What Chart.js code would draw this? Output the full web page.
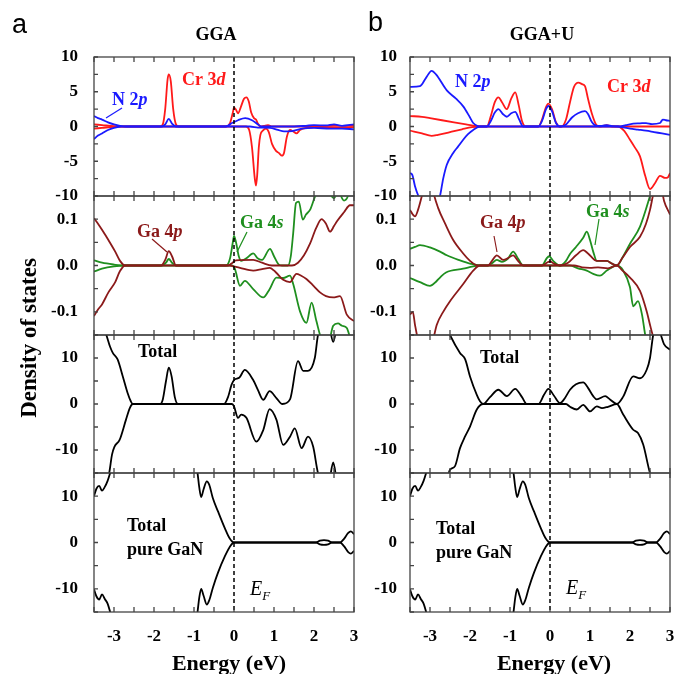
<!DOCTYPE html>
<html>
<head>
<meta charset="utf-8">
<script src="https://cdn.jsdelivr.net/npm/chart.js@4.4.1/dist/chart.umd.min.js"></script>
<style>
  body { margin: 0; background: #fff; overflow: hidden; }
  #wrap { position: relative; width: 675px; height: 674px; overflow: hidden; }
  #wrap canvas { position: absolute; left: 0; top: 0; }
</style>
</head>
<body>
<div id="wrap"></div>
<script>
// ---- tick labels ----
const energyTicks = [-3, -2, -1, 0, 1, 2, 3];
const pdosTicks = [-10, -5, 0, 5, 10];
const gaTicks = [-0.1, 0, 0.1];
const totTicks = [-10, 0, 10];

// ---- GGA (column a), [energy eV, DOS] ----
const ggaNUp = [[-3.5,1.5],[-3.4,1.2],[-3.3,1.0],[-3.15,0.6],[-3.0,0.3],[-2.85,0.1],[-2.7,0],[-1.8,0],[-1.72,0.3],[-1.63,1.1],[-1.55,0.4],[-1.45,0],[-0.2,0],[-0.05,0.5],[0.1,0.9],[0.28,1.2],[0.45,0.9],[0.6,0.3],[0.7,0],[1.5,0],[1.8,0.1],[2.0,0.2],[2.3,0.15],[2.5,0.3],[2.7,0.1],[3.0,0.3]];
const ggaNDn = [[-3.5,-1.8],[-3.4,-1.3],[-3.3,-1.0],[-3.15,-0.5],[-3.0,-0.2],[-2.8,0],[0.4,0],[0.6,-0.15],[0.9,-0.2],[1.1,-0.5],[1.25,-0.7],[1.45,-0.65],[1.7,-0.3],[2.0,-0.2],[2.4,-0.3],[2.7,-0.3],[3.0,-0.4]];
const ggaCrUp = [[-3.5,0.3],[-3.3,0.2],[-3.0,0.05],[-2.7,0],[-1.85,0],[-1.78,0.3],[-1.72,2.5],[-1.66,6.8],[-1.63,7.5],[-1.58,6.5],[-1.52,2.5],[-1.45,0.3],[-1.38,0],[-0.2,0],[-0.1,0.5],[-0.03,2.0],[0.0,2.7],[0.05,2.4],[0.1,1.9],[0.17,2.8],[0.25,4.0],[0.31,4.2],[0.37,3.6],[0.43,2.0],[0.5,1.2],[0.55,1.0],[0.6,0.4],[0.65,0],[0.75,0.1],[0.85,0.2],[0.95,0],[1.5,0],[2.0,0.05],[2.5,0.1],[3.0,0.1]];
const ggaCrDn = [[-3.5,-0.3],[-3.3,-0.2],[-3.0,-0.05],[-2.7,0],[0.3,0],[0.38,-0.5],[0.45,-3],[0.52,-7.5],[0.55,-8.5],[0.58,-7],[0.62,-3],[0.66,-1.2],[0.72,-0.6],[0.8,-0.3],[0.87,-0.8],[0.95,-2.5],[1.05,-3.5],[1.12,-3.8],[1.2,-4.2],[1.25,-3.8],[1.32,-1.5],[1.4,-0.5],[1.48,-0.7],[1.56,-1.0],[1.65,-0.5],[1.8,-0.2],[2.2,-0.1],[2.6,-0.15],[3.0,-0.1]];
const ggaGa4pUp = [[-3.5,0.102],[-3.4,0.09],[-3.3,0.077],[-3.14,0.055],[-2.97,0.03],[-2.85,0.01],[-2.72,0],[-1.82,0],[-1.72,0.012],[-1.63,0.031],[-1.55,0.02],[-1.45,0],[-0.15,0],[-0.05,0.005],[0.05,0.011],[0.48,0.012],[0.7,0.006],[0.95,0],[1.45,0],[1.6,0.006],[1.75,0.022],[1.9,0.047],[2.05,0.08],[2.19,0.1],[2.3,0.09],[2.4,0.073],[2.5,0.085],[2.57,0.095],[2.75,0.115],[2.9,0.13],[3.0,0.13]];
const ggaGa4pDn = [[-3.5,-0.109],[-3.4,-0.095],[-3.3,-0.084],[-3.14,-0.058],[-2.97,-0.036],[-2.85,-0.012],[-2.72,0],[-0.1,0],[0.0,-0.002],[0.15,-0.005],[0.48,-0.011],[0.7,-0.008],[0.89,-0.005],[1.05,-0.015],[1.23,-0.031],[1.4,-0.036],[1.56,-0.018],[1.68,-0.022],[1.81,-0.029],[2.0,-0.045],[2.15,-0.058],[2.3,-0.066],[2.48,-0.069],[2.65,-0.066],[2.82,-0.106],[3.0,-0.12]];
const ggaGa4sUp = [[-3.5,0.011],[-3.3,0.006],[-3.0,0.002],[-2.75,0],[-1.8,0],[-1.7,0.006],[-1.63,0.014],[-1.55,0.006],[-1.45,0],[-0.2,0],[-0.1,0.015],[-0.03,0.05],[0.0,0.064],[0.05,0.05],[0.12,0.02],[0.18,0.01],[0.3,0.015],[0.48,0.026],[0.6,0.015],[0.7,0.012],[0.9,0.036],[1.0,0.02],[1.12,0.002],[1.2,0],[1.35,0],[1.42,0.02],[1.48,0.07],[1.55,0.135],[1.62,0.138],[1.72,0.099],[1.8,0.11],[1.9,0.12],[2.06,0.155],[2.3,0.165],[2.5,0.145],[2.6,0.16],[2.75,0.14],[2.85,0.15],[3.0,0.2]];
const ggaGa4sDn = [[-3.5,-0.013],[-3.3,-0.007],[-3.0,-0.002],[-2.75,0],[-0.05,0],[0.02,-0.007],[0.15,-0.044],[0.27,-0.033],[0.48,-0.051],[0.73,-0.069],[0.89,-0.051],[1.06,-0.026],[1.23,-0.027],[1.4,-0.022],[1.48,-0.04],[1.65,-0.099],[1.81,-0.124],[1.94,-0.08],[2.06,-0.12],[2.19,-0.16],[2.35,-0.17],[2.48,-0.13],[2.6,-0.125],[2.7,-0.13],[2.82,-0.135],[2.92,-0.16],[3.0,-0.17]];
const ggaTotUp = [[-3.5,20],[-3.25,16],[-3.2,15.2],[-3.1,12.5],[-3.03,11.1],[-2.91,9.7],[-2.78,6.0],[-2.66,2.4],[-2.58,0.6],[-2.53,0],[-1.85,0],[-1.78,1],[-1.7,5],[-1.63,7.9],[-1.56,6],[-1.48,1.5],[-1.4,0],[-0.25,0],[-0.15,1.5],[-0.06,4.2],[0.01,5.3],[0.13,5.7],[0.27,7.4],[0.48,5.2],[0.6,3.0],[0.73,0.9],[0.89,2.8],[1.06,1.3],[1.21,0],[1.4,1.0],[1.6,9.3],[1.73,7.2],[1.85,7.2],[2.02,10],[2.1,15],[2.3,18],[2.38,17],[2.48,13.5],[2.58,17],[3.0,20]];
const ggaTotDn = [[-3.5,-20],[-3.2,-17],[-3.12,-15],[-3.05,-11],[-2.99,-9.3],[-2.86,-7.8],[-2.7,-3.4],[-2.6,-0.8],[-2.53,0],[-0.05,0],[0.0,-0.5],[0.1,-3],[0.18,-2.3],[0.31,-3.0],[0.56,-8.2],[0.73,-5.7],[0.89,-1.1],[1.06,-3.4],[1.23,-8.9],[1.4,-7.1],[1.52,-5.3],[1.69,-9.6],[1.85,-7.1],[1.98,-9.3],[2.1,-15],[2.3,-18],[2.38,-17],[2.48,-12.7],[2.58,-17],[3.0,-20]];

// ---- GGA+U (column b) ----
const ggauNUp = [[-3.5,5.7],[-3.25,5.8],[-3.1,7.0],[-2.96,8.0],[-2.85,7.5],[-2.58,5.2],[-2.35,4.0],[-2.17,2.9],[-2.0,1.3],[-1.92,0.5],[-1.8,0.05],[-1.75,0],[-1.58,0],[-1.48,0.8],[-1.38,2.0],[-1.29,2.5],[-1.18,1.8],[-1.08,1.4],[-0.97,1.9],[-0.87,2.1],[-0.77,1.0],[-0.67,0],[-0.29,0],[-0.2,0.8],[-0.1,2.5],[-0.04,2.95],[0.05,2.2],[0.15,0.5],[0.25,0],[0.4,0.3],[0.55,1.3],[0.7,1.9],[0.875,2.2],[0.95,1.8],[1.05,0.6],[1.17,0.1],[1.3,0.1],[1.42,0.2],[1.55,0.05],[1.75,0],[1.9,0.2],[2.08,0.4],[2.25,0.45],[2.4,0.5],[2.55,0.35],[2.75,0.5],[2.82,1.0],[2.9,0.9],[3.0,0.8]];
const ggauNDn = [[-3.5,-6.7],[-3.44,-7.0],[-3.375,-8.6],[-3.29,-10],[-3.1,-12],[-2.95,-12],[-2.8,-10.8],[-2.75,-10],[-2.67,-7.5],[-2.58,-5.5],[-2.42,-3.8],[-2.3,-2.9],[-2.17,-1.9],[-2.05,-1.1],[-1.92,-0.5],[-1.75,0],[1.7,0],[1.8,-0.1],[2.0,-0.3],[2.2,-0.45],[2.4,-0.6],[2.6,-0.8],[2.8,-1.0],[3.0,-1.2]];
const ggauCrUp = [[-3.5,1.5],[-3.2,1.4],[-3.0,1.2],[-2.7,0.9],[-2.4,0.6],[-2.1,0.3],[-1.9,0.1],[-1.75,0],[-1.58,0],[-1.48,1.5],[-1.38,3.5],[-1.29,4.2],[-1.2,3.5],[-1.08,2.5],[-0.97,4.0],[-0.87,4.9],[-0.78,3],[-0.7,0.8],[-0.6,0],[-0.29,0],[-0.2,1.0],[-0.1,2.8],[-0.04,3.3],[0.05,2.5],[0.15,0.6],[0.25,0],[0.29,0],[0.4,1.0],[0.5,3.5],[0.6,5.7],[0.71,6.3],[0.8,6.1],[0.875,5.8],[0.95,4.0],[1.05,1.8],[1.15,0.3],[1.25,0],[1.42,0.2],[1.55,0],[3.0,0]];
const ggauCrDn = [[-3.5,-0.6],[-3.2,-1.0],[-2.96,-1.35],[-2.8,-1.2],[-2.5,-0.8],[-2.2,-0.4],[-1.95,-0.1],[-1.75,0],[1.7,0],[1.85,-0.6],[2.0,-1.9],[2.12,-3.0],[2.25,-4.3],[2.38,-7.1],[2.5,-9.0],[2.62,-8.2],[2.75,-7.1],[2.88,-7.4],[2.95,-7.3],[3.0,-6.7]];
const ggauGa4pUp = [[-3.5,0.12],[-3.43,0.11],[-3.375,0.106],[-3.3,0.12],[-3.17,0.16],[-3.0,0.2],[-2.92,0.16],[-2.8,0.125],[-2.625,0.091],[-2.42,0.055],[-2.17,0.026],[-2.0,0.01],[-1.85,0.001],[-1.75,0],[-1.55,0],[-1.45,0.01],[-1.33,0.022],[-1.17,0.012],[-1.05,0.016],[-0.92,0.022],[-0.8,0.01],[-0.67,0],[-0.2,0],[-0.08,0.006],[0,0.009],[0.1,0.004],[0.25,0],[0.45,0.006],[0.65,0.022],[0.83,0.033],[0.95,0.026],[1.17,0.01],[1.42,0.01],[1.55,0.004],[1.67,0],[1.8,0.015],[2.0,0.04],[2.25,0.062],[2.4,0.09],[2.5,0.12],[2.6,0.16],[2.75,0.18],[2.85,0.14],[3.0,0.11]];
const ggauGa4pDn = [[-3.5,-0.106],[-3.43,-0.1],[-3.375,-0.128],[-3.3,-0.16],[-3.1,-0.2],[-2.95,-0.17],[-2.83,-0.128],[-2.67,-0.1],[-2.5,-0.077],[-2.17,-0.04],[-1.92,-0.011],[-1.75,0],[0.6,0],[0.8,-0.004],[1.0,-0.005],[1.2,-0.004],[1.45,-0.006],[1.67,0],[1.8,-0.01],[2.0,-0.026],[2.25,-0.055],[2.42,-0.1],[2.5,-0.128],[2.6,-0.16],[3.0,-0.25]];
const ggauGa4sUp = [[-3.5,0.036],[-3.375,0.04],[-3.25,0.044],[-3.0,0.039],[-2.75,0.03],[-2.58,0.022],[-2.25,0.011],[-2.0,0.004],[-1.75,0],[-1.55,0],[-1.45,0.005],[-1.33,0.012],[-1.2,0.008],[-1.05,0.015],[-0.92,0.03],[-0.8,0.015],[-0.67,0],[-0.2,0],[-0.08,0.016],[-0.02,0.02],[0.08,0.01],[0.25,0],[0.4,0.01],[0.5,0.025],[0.65,0.04],[0.83,0.06],[0.92,0.073],[1.0,0.055],[1.08,0.03],[1.17,0.01],[1.42,0.01],[1.55,0.004],[1.67,0],[1.83,0.02],[2.0,0.047],[2.25,0.084],[2.5,0.15],[2.6,0.18],[3.0,0.25]];
const ggauGa4sDn = [[-3.5,-0.027],[-3.25,-0.036],[-3.0,-0.044],[-2.85,-0.035],[-2.75,-0.026],[-2.6,-0.015],[-2.17,-0.007],[-1.92,-0.002],[-1.75,0],[0.5,0],[0.7,-0.006],[0.92,-0.011],[1.08,-0.018],[1.25,-0.022],[1.42,-0.011],[1.67,0],[1.83,-0.011],[2.0,-0.047],[2.08,-0.088],[2.2,-0.077],[2.3,-0.106],[2.38,-0.15],[2.5,-0.2],[3.0,-0.25]];
const ggauTotUp = [[-3.5,25],[-2.6,17],[-2.5,15],[-2.25,11.1],[-2.12,9.7],[-2.0,6.0],[-1.83,2.0],[-1.75,0.6],[-1.67,0],[-1.5,1.5],[-1.29,3.1],[-1.08,1.7],[-0.87,3.3],[-0.7,1.5],[-0.58,0],[-0.29,0],[-0.15,2],[-0.04,3.3],[0.1,1.8],[0.25,0.2],[0.35,1],[0.5,3.1],[0.65,4.3],[0.83,4.7],[0.95,3.5],[1.08,1.7],[1.17,1.0],[1.38,1.7],[1.5,1.0],[1.67,0],[1.83,1.6],[2.08,6],[2.25,5.6],[2.42,7.5],[2.5,10],[2.58,15],[2.66,16.5],[2.75,15.5],[2.85,13],[3.0,11.8]];
const ggauTotDn = [[-3.5,-25],[-2.6,-17],[-2.5,-14.3],[-2.375,-13.5],[-2.25,-9.6],[-2.12,-7],[-2.0,-4.9],[-1.83,-1.2],[-1.67,0],[0.4,0],[0.5,-0.6],[0.67,-1.2],[0.83,-0.2],[1.0,-1.6],[1.17,-0.5],[1.3,-0.9],[1.45,-0.6],[1.67,0],[1.83,-2.3],[2.08,-5.6],[2.2,-6.3],[2.33,-8.8],[2.5,-15],[3.0,-25]];

// ---- pure GaN (same in both columns) ----
const ganTotUp = [[-3.5,10],[-3.44,11.6],[-3.37,12.2],[-3.3,11.2],[-3.23,12],[-3.16,13.3],[-3.09,15.2],[-3.0,18],[-1.0,18],[-0.92,15.5],[-0.87,12],[-0.82,9.8],[-0.76,11.5],[-0.68,13.2],[-0.62,12.5],[-0.53,9.6],[-0.4,6.7],[-0.23,3.1],[-0.11,0.9],[0,0],[2.05,0],[2.15,0.4],[2.25,0.5],[2.35,0.4],[2.45,0],[2.65,0],[2.75,0.8],[2.85,2.0],[2.92,2.4],[3.0,1.8]];
const ganTotDn = [[-3.5,-10.1],[-3.44,-11.6],[-3.37,-12.3],[-3.3,-11.2],[-3.23,-12.2],[-3.16,-13.2],[-3.09,-15.2],[-3.0,-18],[-1.0,-18],[-0.92,-15.5],[-0.87,-12],[-0.82,-10],[-0.76,-11.5],[-0.68,-13.4],[-0.62,-12.5],[-0.53,-9.8],[-0.4,-6.5],[-0.23,-3.0],[-0.11,-1.0],[0,0],[2.05,0],[2.15,-0.4],[2.25,-0.5],[2.35,-0.4],[2.45,0],[2.65,0],[2.75,-0.8],[2.85,-2.0],[2.92,-2.4],[3.0,-1.8]];

// ---- styling ----
const RED = '#ff1a1a', BLUE = '#1a1aff', MAROON = '#8b1a1a', GREEN = '#1f8f1f', BLACK = '#000';
const SERIF = "'Liberation Serif', 'Times New Roman', serif";
const SANS = "'Liberation Sans', Arial, sans-serif";
const TICK_FONT = { family: SERIF, weight: 'bold', size: 17 };
const colX = [[94, 354], [410, 670]];
const rowY = [[57, 196], [196, 335], [335, 473], [473, 612]];
const Y_AXIS_W = 70, X_AXIS_H = 40;
const CANVAS_W = 720, CANVAS_H = 674;

function drawRich(ctx, spec) {
  ctx.save();
  ctx.translate(spec.x, spec.y);
  if (spec.rot) ctx.rotate(spec.rot);
  ctx.fillStyle = spec.c || BLACK;
  ctx.textBaseline = 'middle';
  const fontOf = p => {
    const st = p[1] || 'b';
    return (st.includes('i') ? 'italic ' : '') + (st.includes('b') ? 'bold ' : '') +
      (p[2] || spec.s) + 'px ' + (spec.f || SERIF);
  };
  let w = 0;
  spec.t.forEach(p => { ctx.font = fontOf(p); w += ctx.measureText(p[0]).width; });
  let cx = spec.align === 'center' ? -w / 2 : 0;
  spec.t.forEach(p => {
    ctx.font = fontOf(p);
    ctx.fillText(p[0], cx, p[3] || 0);
    cx += ctx.measureText(p[0]).width;
  });
  ctx.restore();
}

const panelDecor = {
  id: 'panelDecor',
  afterDatasetsDraw(chart, args, o) {
    const { ctx, chartArea: a, scales: { x, y } } = chart;
    ctx.save();
    // dashed Fermi level
    const x0 = x.getPixelForValue(0);
    ctx.setLineDash([4, 3]);
    ctx.lineWidth = 1.5;
    ctx.strokeStyle = BLACK;
    ctx.beginPath(); ctx.moveTo(x0, a.top); ctx.lineTo(x0, a.bottom); ctx.stroke();
    ctx.setLineDash([]);
    // frame and inward ticks
    ctx.strokeStyle = '#444';
    ctx.lineWidth = 1.3;
    ctx.strokeRect(a.left, a.top, a.width, a.height);
    ctx.beginPath();
    for (let v = x.min; v <= x.max + 1e-9; v += 0.5) {
      const px = x.getPixelForValue(v);
      ctx.moveTo(px, a.top); ctx.lineTo(px, a.top + 5);
      ctx.moveTo(px, a.bottom); ctx.lineTo(px, a.bottom - 5);
    }
    for (let v = y.min; v <= y.max + 1e-9; v += o.yStep) {
      const py = y.getPixelForValue(v);
      ctx.moveTo(a.left, py); ctx.lineTo(a.left + 4, py);
    }
    ctx.stroke();
    // leader lines
    (o.lines || []).forEach(l => {
      ctx.strokeStyle = l[4]; ctx.lineWidth = 1.2;
      ctx.beginPath(); ctx.moveTo(l[0], l[1]); ctx.lineTo(l[2], l[3]); ctx.stroke();
    });
    (o.texts || []).forEach(t => drawRich(ctx, t));
    ctx.restore();
  }
};

function series(pts, color) {
  return {
    data: pts.map(p => ({ x: p[0], y: p[1] })),
    borderColor: color, borderWidth: 1.8, pointRadius: 0,
    cubicInterpolationMode: 'monotone', fill: false, clip: 0
  };
}

const panels = [
  { col: 0, row: 0, sets: [[ggaNUp, BLUE], [ggaNDn, BLUE], [ggaCrUp, RED], [ggaCrDn, RED]],
    y: [-10, 10], ticks: pdosTicks, step: 2.5, dec: 0,
    texts: [
      { t: [['a', 'n']], x: 12, y: 26, s: 27, f: SANS },
      { t: [['GGA', 'b']], x: 216, y: 35, s: 18, align: 'center' },
      { t: [['Density of states', 'b']], x: 30, y: 338, s: 23, rot: -Math.PI / 2, align: 'center' },
      { t: [['N 2', 'b'], ['p', 'bi']], x: 112, y: 100, s: 18, c: BLUE },
      { t: [['Cr 3', 'b'], ['d', 'bi']], x: 182, y: 80, s: 18, c: RED }
    ],
    lines: [[122, 108, 106, 118, BLUE]] },
  { col: 0, row: 1, sets: [[ggaGa4pUp, MAROON], [ggaGa4pDn, MAROON], [ggaGa4sUp, GREEN], [ggaGa4sDn, GREEN]],
    y: [-0.15, 0.15], ticks: gaTicks, step: 0.05, dec: 1,
    texts: [
      { t: [['Ga 4', 'b'], ['p', 'bi']], x: 137, y: 232, s: 18, c: MAROON },
      { t: [['Ga 4', 'b'], ['s', 'bi']], x: 240, y: 223, s: 18, c: GREEN }
    ],
    lines: [[152, 239, 167, 252, MAROON], [247, 232, 237, 252, GREEN]] },
  { col: 0, row: 2, sets: [[ggaTotUp, BLACK], [ggaTotDn, BLACK]],
    y: [-15, 15], ticks: totTicks, step: 5, dec: 0,
    texts: [{ t: [['Total', 'b']], x: 138, y: 352, s: 18 }] },
  { col: 0, row: 3, sets: [[ganTotUp, BLACK], [ganTotDn, BLACK]],
    y: [-15, 15], ticks: totTicks, step: 5, dec: 0, bottom: true,
    texts: [
      { t: [['Total', 'b']], x: 127, y: 526, s: 18 },
      { t: [['pure GaN', 'b']], x: 127, y: 550, s: 18 },
      { t: [['E', 'i'], ['F', 'i', 13, 7]], x: 250, y: 590, s: 20 },
      { t: [['Energy (eV)', 'b']], x: 229, y: 664, s: 22, align: 'center' }
    ] },
  { col: 1, row: 0, sets: [[ggauNUp, BLUE], [ggauNDn, BLUE], [ggauCrUp, RED], [ggauCrDn, RED]],
    y: [-10, 10], ticks: pdosTicks, step: 2.5, dec: 0,
    texts: [
      { t: [['b', 'n']], x: 368, y: 24, s: 27, f: SANS },
      { t: [['GGA+U', 'b']], x: 542, y: 35, s: 18, align: 'center' },
      { t: [['N 2', 'b'], ['p', 'bi']], x: 455, y: 82, s: 18, c: BLUE },
      { t: [['Cr 3', 'b'], ['d', 'bi']], x: 607, y: 87, s: 18, c: RED }
    ] },
  { col: 1, row: 1, sets: [[ggauGa4pUp, MAROON], [ggauGa4pDn, MAROON], [ggauGa4sUp, GREEN], [ggauGa4sDn, GREEN]],
    y: [-0.15, 0.15], ticks: gaTicks, step: 0.05, dec: 1,
    texts: [
      { t: [['Ga 4', 'b'], ['p', 'bi']], x: 480, y: 223, s: 18, c: MAROON },
      { t: [['Ga 4', 'b'], ['s', 'bi']], x: 586, y: 212, s: 18, c: GREEN }
    ],
    lines: [[494, 236, 497, 252, MAROON], [599, 219, 595, 245, GREEN]] },
  { col: 1, row: 2, sets: [[ggauTotUp, BLACK], [ggauTotDn, BLACK]],
    y: [-15, 15], ticks: totTicks, step: 5, dec: 0,
    texts: [{ t: [['Total', 'b']], x: 480, y: 358, s: 18 }] },
  { col: 1, row: 3, sets: [[ganTotUp, BLACK], [ganTotDn, BLACK]],
    y: [-15, 15], ticks: totTicks, step: 5, dec: 0, bottom: true,
    texts: [
      { t: [['Total', 'b']], x: 436, y: 529, s: 18 },
      { t: [['pure GaN', 'b']], x: 436, y: 553, s: 18 },
      { t: [['E', 'i'], ['F', 'i', 13, 7]], x: 566, y: 589, s: 20 },
      { t: [['Energy (eV)', 'b']], x: 554, y: 664, s: 22, align: 'center' }
    ] }
];

const wrap = document.getElementById('wrap');
panels.forEach(p => {
  const canvas = document.createElement('canvas');
  canvas.width = CANVAS_W; canvas.height = CANVAS_H;
  wrap.appendChild(canvas);
  const [cl, cr] = colX[p.col];
  const [rt, rb] = rowY[p.row];
  new Chart(canvas.getContext('2d'), {
    type: 'line',
    data: { datasets: p.sets.map(s => series(s[0], s[1])) },
    plugins: [panelDecor],
    options: {
      responsive: false,
      animation: false,
      events: [],
      layout: { padding: { left: cl - Y_AXIS_W, right: CANVAS_W - cr, top: rt, bottom: CANVAS_H - rb - X_AXIS_H } },
      plugins: {
        legend: { display: false },
        tooltip: { enabled: false },
        panelDecor: { yStep: p.step, texts: p.texts, lines: p.lines }
      },
      scales: {
        x: {
          type: 'linear', min: -3.5, max: 3,
          grid: { display: false, drawTicks: false },
          border: { display: false },
          afterBuildTicks: s => { s.ticks = energyTicks.map(v => ({ value: v })); },
          afterFit: s => { s.height = X_AXIS_H; },
          ticks: { display: !!p.bottom, autoSkip: false, maxRotation: 0, padding: 14, color: BLACK, font: TICK_FONT }
        },
        y: {
          type: 'linear', min: p.y[0], max: p.y[1],
          grid: { display: false, drawTicks: false },
          border: { display: false },
          afterBuildTicks: s => { s.ticks = p.ticks.map(v => ({ value: v })); },
          afterFit: s => { s.width = Y_AXIS_W; },
          ticks: {
            autoSkip: false, padding: p.col === 0 ? 16 : 13, color: BLACK, font: TICK_FONT,
            callback: v => p.dec ? v.toFixed(p.dec) : String(v)
          }
        }
      }
    }
  });
});
</script>
</body>
</html>
